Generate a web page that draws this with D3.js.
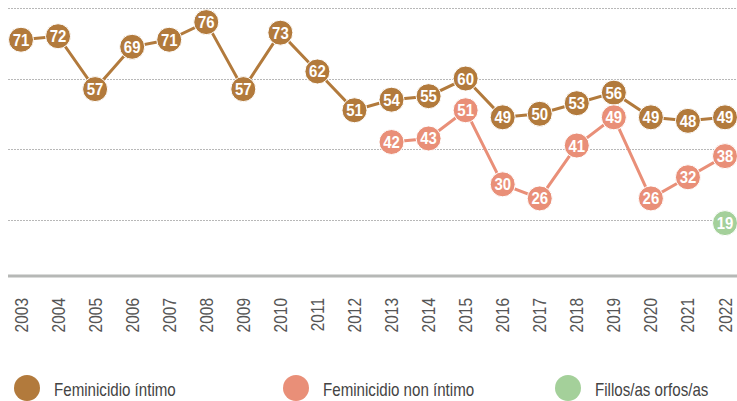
<!DOCTYPE html>
<html><head><meta charset="utf-8">
<script src="https://cdn.jsdelivr.net/npm/d3@7"></script>
<style>
html,body{margin:0;padding:0;background:#fff;}
svg{display:block;}
</style></head>
<body>
<svg id="chart" width="737" height="401"></svg>
<script>
const years = [2003,2004,2005,2006,2007,2008,2009,2010,2011,2012,2013,2014,2015,2016,2017,2018,2019,2020,2021,2022];
const intimo = [71,72,57,69,71,76,57,73,62,51,54,55,60,49,50,53,56,49,48,49];
const nonIntimo = [null,null,null,null,null,null,null,null,null,null,42,43,51,30,26,41,49,26,32,38];
const fillos = [null,null,null,null,null,null,null,null,null,null,null,null,null,null,null,null,null,null,null,19];
const gridValues = [20,40,60,80];
const seriesNames = ["Feminicidio íntimo","Feminicidio non íntimo","Fillos/as orfos/as"];
const colors = ["#b27a3c","#e98f78","#a4d09a"];

const font = "'Liberation Sans',Arial,sans-serif";
const svg = d3.select("#chart");
const x = d3.scalePoint().domain(years).range([21,725]);
const y = d3.scaleLinear().domain([4,80]).range([276,8]);

// gridlines
svg.append("g").selectAll("line").data(gridValues).join("line")
  .attr("x1",8).attr("x2",737)
  .attr("y1",d=>Math.round(y(d))+0.5).attr("y2",d=>Math.round(y(d))+0.5)
  .attr("stroke","#b8b8b8").attr("stroke-width",1).attr("stroke-dasharray","2,1");

// baseline
svg.append("line").attr("x1",8).attr("x2",737)
  .attr("y1",y.range()[0]).attr("y2",y.range()[0])
  .attr("stroke","#b6b8b6").attr("stroke-width",3);

// x axis labels (condensed by horizontal scaling)
svg.append("g").selectAll("text").data(years).join("text")
  .attr("transform",d=>`translate(${x(d)+6.5},298) rotate(-90) scale(0.86,1)`)
  .attr("text-anchor","end")
  .attr("font-family",font).attr("font-size",18).attr("fill","#555")
  .text(d=>d);

const series = [intimo,nonIntimo,fillos];
const line = d3.line().defined(d=>d.v!=null).x(d=>x(d.year)).y(d=>y(d.v));

series.forEach((vals,i)=>{
  const pts = years.map((yr,j)=>({year:yr,v:vals[j]}));
  svg.append("path").datum(pts).attr("d",line)
    .attr("fill","none").attr("stroke",colors[i]).attr("stroke-width",3);
});
series.forEach((vals,i)=>{
  const pts = years.map((yr,j)=>({year:yr,v:vals[j]})).filter(d=>d.v!=null);
  const g = svg.append("g");
  g.selectAll("circle").data(pts).join("circle")
    .attr("cx",d=>x(d.year)).attr("cy",d=>y(d.v)).attr("r",12.5)
    .attr("fill",colors[i]).attr("stroke","#fff").attr("stroke-width",1);
  g.selectAll("text").data(pts).join("text")
    .attr("transform",d=>`translate(${x(d.year)},${y(d.v)+6}) scale(0.88,1)`)
    .attr("text-anchor","middle")
    .attr("font-family",font).attr("font-weight","bold").attr("font-size",17)
    .attr("fill","#fff").text(d=>d.v);
});

// legend
const legendX = [27,296,568];
const lg = svg.append("g");
seriesNames.forEach((name,i)=>{
  lg.append("circle").attr("cx",legendX[i]).attr("cy",388).attr("r",13).attr("fill",colors[i]);
  lg.append("text").attr("transform",`translate(${legendX[i]+27},396) scale(0.84,1)`)
    .attr("font-family",font).attr("font-size",18).attr("fill","#444").text(name);
});
</script>
</body></html>
